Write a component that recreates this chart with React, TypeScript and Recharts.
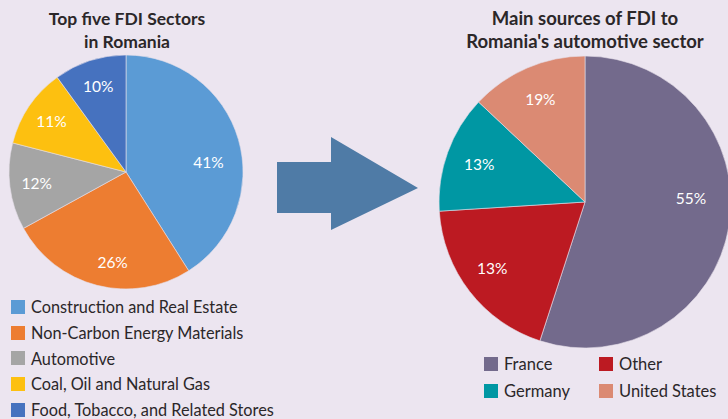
import React from 'react';
import { PieChart, Pie, Cell } from 'recharts';

// left pie: top five FDI sectors
const sectors = [
  'Construction and Real Estate',
  'Non-Carbon Energy Materials',
  'Automotive',
  'Coal, Oil and Natural Gas',
  'Food, Tobacco, and Related Stores',
];
const sectorShares = [41, 26, 12, 11, 10];
const sectorColors = ['#5b9bd5', '#ed7d31', '#a5a5a5', '#fdc010', '#4672bf'];

// right pie: sources of FDI into automotive (slice sizes as drawn, labels as printed)
const sources = ['France', 'Other', 'Germany', 'United States'];
const sourceShares = [55, 19, 13, 13];
const sourceLabels = ['55%', '13%', '13%', '19%'];
const sourceColors = ['#736a8c', '#bc1a22', '#0097a3', '#db8a73'];

const sectorData = sectors.map((name, i) => ({ name, value: sectorShares[i], label: `${sectorShares[i]}%` }));
const sourceData = sources.map((name, i) => ({ name, value: sourceShares[i], label: sourceLabels[i] }));

// hand placement tweaks for a few labels, in px
const labelNudge: Record<string, [number, number]> = {
  'Construction and Real Estate': [-4, 15],
  'Non-Carbon Energy Materials': [9, 3],
  France: [-5, -22],
  Other: [-4, -3],
};

const RAD = Math.PI / 180;
const FONT = 'Lato, "Open Sans", sans-serif';
const TEXT = '#2b2729';

const renderLabel = (props: any) => {
  const { cx, cy, midAngle, outerRadius, payload } = props;
  const r = outerRadius * 0.77;
  const [nx, ny] = labelNudge[payload.name] || [0, 0];
  const x = cx + r * Math.cos(-midAngle * RAD) + nx;
  const y = cy + r * Math.sin(-midAngle * RAD) + ny;
  return (
    <text x={x} y={y} fill="#ffffff" fontSize={15.5} fontFamily={FONT} textAnchor="middle" dominantBaseline="central">
      {payload.label}
    </text>
  );
};

const Swatch: React.FC<{ color: string }> = ({ color }) => (
  <span style={{ display: 'inline-block', width: 14, height: 14, background: color, marginRight: 6, flexShrink: 0 }} />
);

const App: React.FC = () => {
  return (
    <div style={{ position: 'absolute', left: 0, top: 0, width: 728, height: 419, background: '#ece5f0', overflow: 'hidden', fontFamily: FONT, color: TEXT }}>
      <div style={{ position: 'absolute', left: 0, top: 7, width: 254, textAlign: 'center', fontWeight: 700, fontSize: 17.5, lineHeight: '23px' }}>
        Top five FDI Sectors<br />in Romania
      </div>
      <div style={{ position: 'absolute', left: 435, top: 7, width: 300, textAlign: 'center', fontWeight: 700, fontSize: 18.5, lineHeight: '23px' }}>
        Main sources of FDI to<br />Romania's automotive sector
      </div>

      <svg width={728} height={419} style={{ position: 'absolute', left: 0, top: 0 }}>
        <polygon points="277,162 331,162 331,137 418,188 331,230 331,213 277,213" fill="#4f7ba6" />
      </svg>

      <div style={{ position: 'absolute', left: 0, top: 0 }}>
        <PieChart width={728} height={419} margin={{ top: 0, right: 0, bottom: 0, left: 0 }}>
          <Pie
            data={sectorData}
            dataKey="value"
            cx={126}
            cy={172}
            outerRadius={117}
            startAngle={90}
            endAngle={-270}
            stroke="#e6dfea"
            strokeWidth={0.6}
            label={renderLabel}
            labelLine={false}
            isAnimationActive={false}
          >
            {sectorData.map((d, i) => (
              <Cell key={d.name} fill={sectorColors[i]} />
            ))}
          </Pie>
          <Pie
            data={sourceData}
            dataKey="value"
            cx={585}
            cy={202}
            outerRadius={146}
            startAngle={90}
            endAngle={-270}
            stroke="#e6dfea"
            strokeWidth={0.6}
            label={renderLabel}
            labelLine={false}
            isAnimationActive={false}
          >
            {sourceData.map((d, i) => (
              <Cell key={d.name} fill={sourceColors[i]} />
            ))}
          </Pie>
        </PieChart>
      </div>

      <div style={{ position: 'absolute', left: 11, top: 294 }}>
        {sectors.map((name, i) => (
          <div key={name} style={{ display: 'flex', alignItems: 'center', height: 25.7, fontSize: 16.3 }}>
            <Swatch color={sectorColors[i]} />
            {name}
          </div>
        ))}
      </div>

      <div style={{ position: 'absolute', left: 484, top: 350, display: 'grid', gridTemplateColumns: '115px 140px', rowGap: 0 }}>
        {sources.map((name, i) => (
          <div key={name} style={{ display: 'flex', alignItems: 'center', height: 27, fontSize: 16.5, whiteSpace: 'nowrap' }}>
            <Swatch color={sourceColors[i]} />
            {name}
          </div>
        ))}
      </div>
    </div>
  );
};

export default App;
